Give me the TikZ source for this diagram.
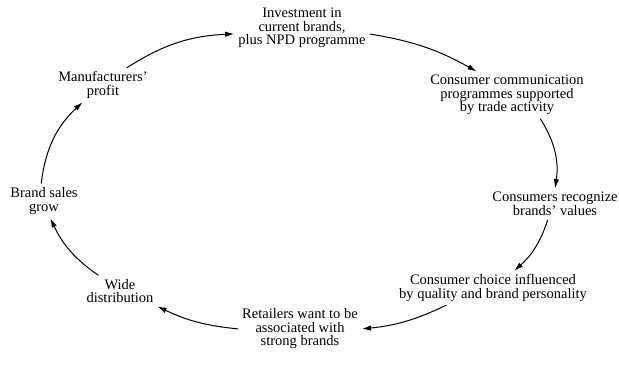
\documentclass[tikz,border=0pt]{standalone}
\usepackage{fontspec}
\setmainfont{Liberation Serif}
\usepackage{tikz}
\usetikzlibrary{arrows.meta}

\tikzset{
  stage/.style={align=center, inner sep=3pt, font=\fontsize{14.5}{13.5}\selectfont},
  flow/.style={-{Latex[length=9pt,width=5.5pt]}, line width=1pt, shorten >=1pt, shorten <=1pt}
}

\begin{document}
\begin{tikzpicture}[x=1pt,y=-1pt]
        \useasboundingbox (0,0) rectangle (619,366);

        \node[stage] (invest) at (302,28) {Investment in\\current brands,\\plus NPD programme};
        \node[stage] (comm) at (507,95) {Consumer communication\\programmes supported\\by trade activity};
        \node[stage] (recog) at (555,204) {Consumers recognize\\brands' values};
        \node[stage] (choice) at (493,288) {Consumer choice influenced\\by quality and brand personality};
        \node[stage] (retail) at (300,329) {Retailers want to be\\associated with\\strong brands};
        \node[stage] (distrib) at (120,291) {Wide\\distribution};
        \node[stage] (sales) at (44,201) {Brand sales\\grow};
        \node[stage] (profit) at (103,85) {Manufacturers'\\profit};

        \draw[flow] (profit.36) to[bend left=15] (invest.185);
        \draw[flow] (invest.355) to[bend left=10] (comm.142);
        \draw[flow] (comm.-35) to[bend left=20] (recog.north);
        \draw[flow] (recog.245) to[bend left=15] (choice.39);
        \draw[flow] (choice.200) to[bend left=10] (retail.east);
        \draw[flow] (retail.west) to[bend left=10] (distrib.south east);
        \draw[flow] (distrib.144) to[bend left=15] (sales.-70);
        \draw[flow] (sales.100) to[bend left=20] (profit.220);
    \end{tikzpicture}
\end{document}
